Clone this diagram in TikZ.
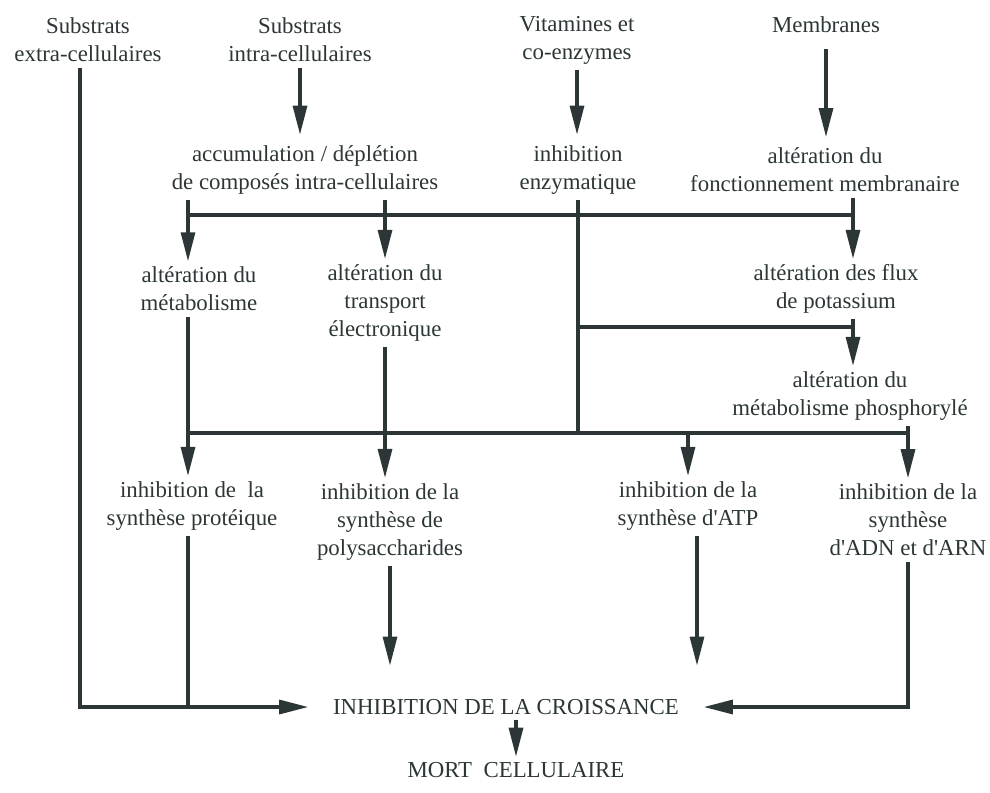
\documentclass[tikz,border=0pt]{standalone}
\usepackage{fontspec}
\setmainfont{Liberation Serif}
\usepackage{tikz}
\usetikzlibrary{calc}
\usetikzlibrary{arrows.meta}
\usepackage{xcolor}
\definecolor{encre}{RGB}{44,54,54}

\begin{document}
\begin{tikzpicture}[x=0.02cm, y=-0.02cm,
        etiq/.style={align=center, inner sep=3pt, text=encre, font=\fontsize{13}{16}\selectfont},
        trait/.style={draw=encre, line width=1.8pt},
        fleche/.style={trait, -{Triangle[length=0.58cm, width=0.28cm]}}]
            \useasboundingbox (0,0) rectangle (990,792);

            \node[etiq] (extra) at (88,40) {Substrats\\extra-cellulaires};
            \node[etiq] (intra) at (300,40) {Substrats\\intra-cellulaires};
            \node[etiq] (vita) at (577,40) {Vitamines et\\co-enzymes};
            \node[etiq] (memb) at (826,25) {Membranes};

            \node[etiq] (accu) at (305,170) {accumulation / déplétion\\de composés intra-cellulaires};
            \node[etiq] (enzy) at (578,170) {inhibition\\enzymatique};
            \node[etiq] (fonct) at (825,170) {altération du\\fonctionnement membranaire};

            \node[etiq] (metab) at (199,289) {altération du\\métabolisme};
            \node[etiq] (transp) at (385,303) {altération du\\transport\\électronique};
            \node[etiq] (flux) at (836,289) {altération des flux\\de potassium};
            \node[etiq] (phos) at (850,396) {altération du\\métabolisme phosphorylé};

            \node[etiq] (prot) at (192,506) {inhibition de~ la\\synthèse protéique};
            \node[etiq] (poly) at (390,522) {inhibition de la\\synthèse de\\polysaccharides};
            \node[etiq] (atp) at (688,506) {inhibition de la\\synthèse d\textquotesingle ATP};
            \node[etiq] (adn) at (908,520) {inhibition de la\\synthèse\\d\textquotesingle ADN et d\textquotesingle ARN};

            \node[etiq, inner xsep=14pt] (crois) at (506,707) {INHIBITION DE LA CROISSANCE};
            \node[etiq] (mort) at (516,770) {MORT~ CELLULAIRE};

            \coordinate (b1) at (188,215);
            \coordinate (b2) at (853,215);
            \coordinate (p1) at (578,327);
            \coordinate (g1) at (188,433);
            \coordinate (g2) at (908,433);
            \coordinate (gauche) at (80,707);

            \draw[fleche] (extra.south -| gauche) -- (gauche) -- (crois.west);
            \draw[fleche, shorten >=3pt] (intra.south) -- (intra.south |- accu.north);
            \draw[fleche, shorten >=3pt] (vita.south) -- (vita.south |- enzy.north);
            \draw[fleche, shorten <=6pt, shorten >=3pt] (memb.south) -- (memb.south |- fonct.north);

            \draw[trait] (b1) -- (b2);
            \draw[fleche] (accu.south -| b1) -- (b1 |- metab.north);
            \draw[fleche] (accu.south -| transp.north) -- (transp.north);
            \draw[fleche] (fonct.south -| b2) -- (b2 |- flux.north);
            \draw[trait] (enzy.south) -- (enzy.south |- g1);

            \draw[trait] (p1) -- (p1 -| b2);
            \draw[fleche] (flux.south -| b2) -- (b2 |- phos.north);

            \draw[trait] (g1) -- (g2);
            \draw[fleche] (metab.south -| g1) -- (g1 |- prot.north);
            \draw[fleche] (transp.south) -- (transp.south |- poly.north);
            \draw[fleche] (g1 -| atp.north) -- (atp.north);
            \draw[fleche] (phos.south -| g2) -- (g2 |- adn.north);

            \draw[trait] (prot.south -| g1) -- (g1 |- crois.west);
            \draw[fleche, shorten >=16pt] (poly.south) -- (poly.south |- crois.north);
            \draw[fleche, shorten >=16pt] (atp.south -| 697,0) -- (697,0 |- crois.north);
            \draw[fleche] (adn.south) -- (adn.south |- crois.east) -- (crois.east);
            \draw[fleche] (crois.south -| mort.north) -- (mort.north);
        \end{tikzpicture}
\end{document}
